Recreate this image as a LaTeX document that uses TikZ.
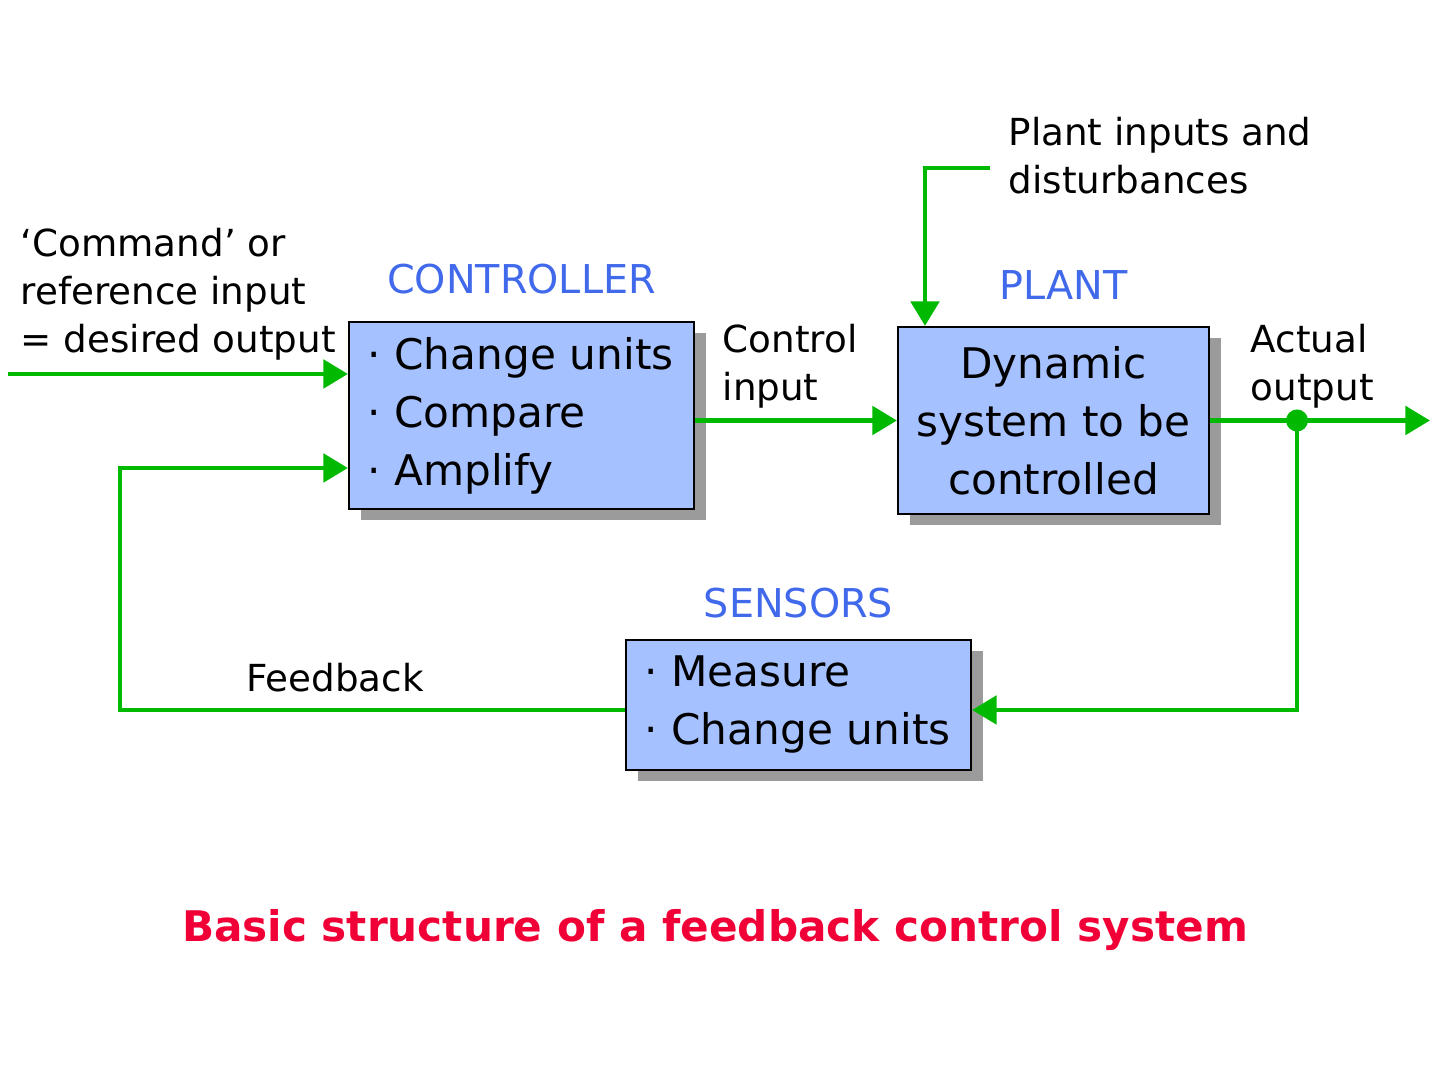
\documentclass[tikz,border=0pt]{standalone}
\usepackage{fontspec}
\setmainfont{DejaVu Sans}
\usetikzlibrary{arrows.meta, shadows, positioning, calc}
\definecolor{sigGreen}{RGB}{0,185,0}
\definecolor{boxBlue}{RGB}{166,193,255}
\definecolor{lblBlue}{RGB}{65,105,235}
\definecolor{titleRed}{RGB}{240,0,55}
\definecolor{shadeGray}{RGB}{155,155,155}

\begin{document}
\begin{tikzpicture}[
  block/.style={draw=black, line width=0.6pt, fill=boxBlue, inner xsep=0.18cm, inner ysep=0pt,
    font=\fontsize{12}{16.5}\selectfont,
    drop shadow={shadow xshift=0.12cm, shadow yshift=-0.11cm, fill=shadeGray, opacity=1}},
  lbl/.style={text=lblBlue, inner sep=0pt, font=\fontsize{11.3}{14}\selectfont},
  note/.style={inner sep=0pt, align=left, anchor=west, font=\fontsize{10.6}{13.7}\selectfont},
  sig/.style={draw=sigGreen, line width=1.4pt, -{Triangle[length=7pt, width=8pt]}}
]
\useasboundingbox[fill=white] (0,0) rectangle (14.4,10.8);
%
\node (ctrl) [block, minimum height=1.87cm, text width=3.09cm, align=left] at (5.215,6.645)
  {· Change units\\· Compare\\· Amplify};
\node (plant) [block, minimum height=1.87cm, minimum width=3.11cm, align=center, inner xsep=0pt] at (10.535,6.595)
  {Dynamic\\system to be\\controlled};
\node (sens) [block, minimum height=1.30cm, text width=3.09cm, align=left] at (7.985,3.75)
  {· Measure\\· Change units};
%
\node (ctrlLbl)  [lbl, above=0.26cm of ctrl] {CONTROLLER};
\node (plantLbl) [lbl, above=0.26cm of plant, xshift=0.1cm] {PLANT};
\node (sensLbl)  [lbl, above=0.20cm of sens] {SENSORS};
%
\node (refTxt)  [note] at (0.20,7.86) {‘Command’ or\\reference input\\= desired output};
\node (ctlTxt)  [note] at (7.22,7.14) {Control\\input};
\node (distTxt) [note] at (10.08,9.24) {Plant inputs and\\disturbances};
\node (outTxt)  [note] at (12.50,7.14) {Actual\\output};
\node (fbTxt)   [note, anchor=center] at (3.35,4.02) {Feedback};
\node (title)   [inner sep=0pt, text=titleRed, font=\fontsize{12}{14}\selectfont\bfseries] at (7.15,1.50)
  {Basic structure of a feedback control system};
%
\coordinate (refIn)  at (0.08,7.06);
\coordinate (fbTurn) at (1.20,6.12);
\coordinate (distIn) at (9.90,9.12);
\coordinate (distX)  at (9.25,0);
\coordinate (tap)    at (12.97,6.595);
\coordinate (outEnd) at (14.30,6.595);
%
\draw[sig] (refIn) -- (refIn -| ctrl.west);
\draw[sig] ([yshift=-0.05cm]sens.west) -| (fbTurn) -- (fbTurn -| ctrl.west);
\draw[sig] (ctrl.east |- plant.west) -- (plant.west);
\draw[sig] (distIn) -| (distX |- plant.north);
\draw[sig] (plant.east) -- (outEnd);
\draw[sig] (tap) |- ([yshift=-0.05cm]sens.east);
\fill[sigGreen] (tap) circle (0.11);
\end{tikzpicture}
\end{document}
